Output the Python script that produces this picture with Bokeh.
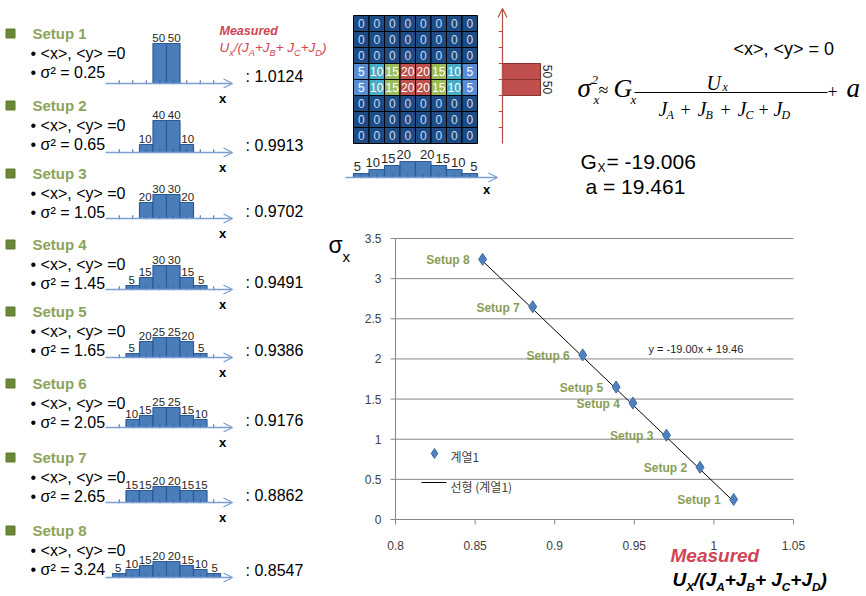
import numpy as np
from bokeh.plotting import figure
from bokeh.models import Range1d, ColumnDataSource, Arrow, OpenHead
from bokeh.core.properties import value
from bokeh.embed import file_html
from bokeh.resources import INLINE

W, H = 866, 596
SANS = "Liberation Sans"
SERIF = "Liberation Serif"
KR = "Noto Sans CJK KR"

# ---------------- data ----------------
setup_names = ["Setup 1", "Setup 2", "Setup 3", "Setup 4",
               "Setup 5", "Setup 6", "Setup 7", "Setup 8"]
sigma_sq = [0.25, 0.65, 1.05, 1.45, 1.65, 2.05, 2.65, 3.24]
measured_ratio = [1.0124, 0.9913, 0.9702, 0.9491, 0.9386, 0.9176, 0.8862, 0.8547]
bin_pos = [-3.5, -2.5, -1.5, -0.5, 0.5, 1.5, 2.5, 3.5]
hist_1 = [0, 0, 0, 50, 50, 0, 0, 0]
hist_2 = [0, 0, 10, 40, 40, 10, 0, 0]
hist_3 = [0, 0, 20, 30, 30, 20, 0, 0]
hist_4 = [0, 5, 15, 30, 30, 15, 5, 0]
hist_5 = [0, 5, 20, 25, 25, 20, 5, 0]
hist_6 = [0, 10, 15, 25, 25, 15, 10, 0]
hist_7 = [0, 15, 15, 20, 20, 15, 15, 0]
hist_8 = [5, 10, 15, 20, 20, 15, 10, 5]
setup_hists = [hist_1, hist_2, hist_3, hist_4, hist_5, hist_6, hist_7, hist_8]
zero_row = [0, 0, 0, 0, 0, 0, 0, 0]
beam_row = [5, 10, 15, 20, 20, 15, 10, 5]
grid_values = [zero_row, zero_row, zero_row, beam_row, beam_row, zero_row, zero_row, zero_row]
col_hist = [5, 10, 15, 20, 20, 15, 10, 5]
row_hist = [0, 0, 0, 50, 50, 0, 0, 0]
trend_slope = -19.00
trend_intercept = 19.46
fit_G = -19.006
fit_a = 19.461
x_ticks = [0.8, 0.85, 0.9, 0.95, 1.0, 1.05]
x_tick_labels = ["0.8", "0.85", "0.9", "0.95", "1", "1.05"]
y_ticks = [0, 0.5, 1, 1.5, 2, 2.5, 3, 3.5]
y_tick_labels = ["0", "0.5", "1", "1.5", "2", "2.5", "3", "3.5"]
legend_labels = ["계열1", "선형 (계열1)"]

# ---------------- layout helpers ----------------
def xmap(v0, px0, ppu):
    s = v0 - px0 / ppu
    return Range1d(s, s + W / ppu)

def ymap(v0, py0, ppu):
    s = v0 - (H - py0) / ppu
    return Range1d(s, s + H / ppu)

title_y = [33, 105, 173, 244, 311, 383, 457, 530]
axis_y = [83, 152, 218, 289, 357, 427, 502, 577]
HX_C, HX_PPU = 166, 13.5
S_X0, S_X1, S_Y0, S_Y1 = 395, 793, 519, 238

p = figure(width=W, height=H, x_range=Range1d(0, W), y_range=Range1d(H, 0),
           x_axis_type=None, y_axis_type=None, toolbar_location=None,
           output_backend="svg", min_border=0)
p.outline_line_color = None
p.background_fill_color = "white"
p.border_fill_color = "white"

p.extra_x_ranges = {
    "hx": xmap(0, HX_C, HX_PPU),
    "gx": xmap(0, 353, 15.5),
    "vx": xmap(0, 502, 0.76),
    "sx": xmap(x_ticks[0], S_X0, (S_X1 - S_X0) / (x_ticks[-1] - x_ticks[0])),
}
yr = {f"h{i}": ymap(0, axis_y[i], 0.8) for i in range(8)}
yr["gy"] = ymap(0, 143, 16)
yr["ghy"] = ymap(0, 177, 0.8)
yr["sy"] = ymap(y_ticks[0], S_Y0, (S_Y0 - S_Y1) / (y_ticks[-1] - y_ticks[0]))
p.extra_y_ranges = yr


def _l(v):
    return list(v) if isinstance(v, (list, tuple, np.ndarray)) else [v]


def txt(x, y, s, size, color="#000000", style="normal", align="left",
        baseline="middle", font=SANS, angle=0.0, xr="default", yr="default",
        xo=0, yo=0):
    xs, ys, ss = _l(x), _l(y), _l(s)
    n = max(len(xs), len(ys), len(ss))
    xs = xs * n if len(xs) == 1 else xs
    ys = ys * n if len(ys) == 1 else ys
    ss = ss * n if len(ss) == 1 else ss
    xos = _l(xo)
    xos = xos * n if len(xos) == 1 else xos
    src = ColumnDataSource(dict(x=xs, y=ys, t=ss, xo=xos))
    p.text(x="x", y="y", text="t", source=src, text_font=value(font),
           text_font_size=f"{size}px", text_color=color, text_font_style=style,
           text_align=align, text_baseline=baseline, angle=angle,
           x_range_name=xr, y_range_name=yr, x_offset="xo", y_offset=yo)


def tb(x, base, s, size, color="#000000", style="normal", font=SANS, align="left"):
    """text placed by its baseline (canvas px)"""
    txt(x, base - 0.35 * size, s, size, color, style, align=align, font=font)


ARIAL = {' ': 278, '(': 333, ')': 333, '+': 584, '/': 278, 'A': 667, 'B': 667,
         'C': 722, 'D': 722, 'J': 500, 'U': 722, 'X': 667, 'x': 500}
ARIAL_B = {' ': 278, '(': 333, ')': 333, '+': 584, '/': 278, 'A': 722, 'B': 722,
           'C': 722, 'D': 722, 'J': 556, 'U': 722, 'X': 667, 'x': 556}


def rich(x, y, parts, size, color, style, table, sub=0.62):
    for s, kind in parts:
        fs = size * sub if kind == "sub" else size
        yy = y + size * 0.25 if kind == "sub" else y
        tb(x, yy, s, round(fs, 1), color, style)
        x += sum(table.get(c, 556) for c in s) / 1000 * fs


def ratio_parts(xs):
    return [("U", "n"), (xs, "sub"), ("/(J", "n"), ("A", "sub"), ("+J", "n"),
            ("B", "sub"), ("+ J", "n"), ("C", "sub"), ("+J", "n"), ("D", "sub"),
            (")", "n")]


OLIVE = "#8CA35A"
RED = "#D04555"
BAR_F, BAR_L = "#4A7EBB", "#2E5A94"
ARROW_C = "#7C9ED3"

# ---------------- left column: 8 setups ----------------
for i in range(8):
    T, A = title_y[i], axis_y[i]
    yn = f"h{i}"
    p.rect(x=[10], y=[T], width=9, height=9, fill_color="#6A8A37",
           line_color="#5A7A2A")
    txt(32, T, setup_names[i], 15, OLIVE, "bold")
    txt(30, T + 20, "• <x>, <y> =0", 16)
    txt(30, T + 39, f"• σ² = {sigma_sq[i]:.2f}", 16)
    vals = setup_hists[i]
    bx = [b for b, v in zip(bin_pos, vals) if v > 0]
    bv = [v for v in vals if v > 0]
    p.vbar(x=bx, top=bv, bottom=0, width=1, x_range_name="hx", y_range_name=yn,
           fill_color=BAR_F, line_color=BAR_L, line_width=1.2)
    p.segment(x0=bin_pos, x1=bin_pos, y0=[-1] * 8, y1=[4] * 8,
              x_range_name="hx", y_range_name=yn, line_color="#3B5F9A", line_width=1)
    p.add_layout(Arrow(x_start=(105 - HX_C) / HX_PPU, y_start=0,
                       x_end=(232 - HX_C) / HX_PPU, y_end=0,
                       x_range_name="hx", y_range_name=yn,
                       line_color=ARROW_C, line_width=1.3,
                       end=OpenHead(size=9, line_color=ARROW_C, line_width=1.3)))
    txt(bx, [v + 2 for v in bv], [str(v) for v in bv], 11.5, "#262626",
        align="center", baseline="bottom", xr="hx", yr=yn,
        xo=[-1 if b < 0 else 1 for b in bx])
    if i < 7:
        txt(222, A + 15, "x", 13, "#000000", "bold", align="center")
    txt(245, A - 7, f": {measured_ratio[i]:.4f}", 16)

# red label at top of left column
tb(219, 35, "Measured", 12.5, RED, "bold italic")
rich(219, 52, ratio_parts("x"), 13.5, RED, "italic", ARIAL, sub=0.68)

# ---------------- top middle: detector grid ----------------
cell_col = {0: "#1F4B85", 5: "#558ED5", 10: "#4BACC6", 15: "#9BBB59", 20: "#C0504D"}
cx, cy, cv, cc, tc = [], [], [], [], []
for r, row in enumerate(grid_values):
    for c, v in enumerate(row):
        cx.append(c + 0.5)
        cy.append(7.5 - r)
        cv.append(str(v))
        cc.append(cell_col[v])
        tc.append("#C6D9F1" if v == 0 else "#FFFFFF")
p.rect(x=cx, y=cy, width=1, height=1, fill_color=cc, line_color="black",
       line_width=1, x_range_name="gx", y_range_name="gy")
src = ColumnDataSource(dict(x=cx, y=cy, t=cv, c=tc))
p.text(x="x", y="y", text="t", source=src, text_color="c", text_font=value(SANS),
       text_font_size="12px", text_align="center", text_baseline="middle",
       x_range_name="gx", y_range_name="gy")

# column histogram under grid
gcx = [c + 0.5 for c in range(8)]
p.vbar(x=gcx, top=col_hist, bottom=0, width=1, x_range_name="gx", y_range_name="ghy",
       fill_color=BAR_F, line_color=BAR_L, line_width=1.2)
p.segment(x0=gcx, x1=gcx, y0=[-1] * 8, y1=[4] * 8, x_range_name="gx",
          y_range_name="ghy", line_color="#3B5F9A")
p.add_layout(Arrow(x_start=(345 - 353) / 15.5, y_start=0, x_end=(497 - 353) / 15.5,
                   y_end=0, x_range_name="gx", y_range_name="ghy",
                   line_color=ARROW_C, line_width=1.3,
                   end=OpenHead(size=9, line_color=ARROW_C, line_width=1.3)))
txt(gcx, [v + 3 for v in col_hist], [str(v) for v in col_hist], 13, "#262626",
    align="center", baseline="bottom", xr="gx", yr="ghy",
    xo=[-4 if c < 4 else 4 for c in gcx])
txt(486, 189, "x", 13, "#000000", "bold", align="center")

# row histogram right of grid
rcy = [7.5 - r for r in range(8)]
ry = [y for y, v in zip(rcy, row_hist) if v > 0]
rv = [v for v in row_hist if v > 0]
p.hbar(y=ry, right=rv, left=0, height=1, x_range_name="vx", y_range_name="gy",
       fill_color="#C0504D", line_color="#8C3230", line_width=1.2)
VA = "#B0513F"
p.segment(x0=[-5] * 7, x1=[0] * 7, y0=list(range(1, 8)), y1=list(range(1, 8)),
          x_range_name="vx", y_range_name="gy", line_color=VA)
p.add_layout(Arrow(x_start=0, y_start=0, x_end=0, y_end=(143 - 8) / 16,
                   x_range_name="vx", y_range_name="gy", line_color=VA,
                   line_width=1.2, end=OpenHead(size=9, line_color=VA, line_width=1.2)))
txt([v + 3 for v in rv], ry, [str(v) for v in rv], 12, "#262626", align="center",
    baseline="bottom", angle=-np.pi / 2, xr="vx", yr="gy")

# ---------------- top right: formula ----------------
txt(733, 48, "<x>, <y> = 0", 18)
tb(577, 97, "σ", 27, style="italic", font=SERIF)
tb(591, 84, "2", 13, style="italic", font=SERIF)
tb(593, 104, "x", 13, style="italic", font=SERIF)
tb(598, 96, "≈", 18, font=SERIF)
tb(613, 97, "G", 26, style="italic", font=SERIF)
tb(630, 104, "x", 13, style="italic", font=SERIF)
p.segment(x0=[634], x1=[827], y0=[92], y1=[92], line_color="black", line_width=1)
tb(706, 89, "U", 20, style="italic", font=SERIF)
tb(722, 91, "x", 12, style="italic", font=SERIF)
for jx, sub_ in zip([658, 697, 737, 773], ["A", "B", "C", "D"]):
    tb(jx, 115, "J", 20, style="italic", font=SERIF)
    tb(jx + 8, 119, sub_, 12, style="italic", font=SERIF)
for px_ in [680, 720, 758]:
    tb(px_, 115, "+", 18, font=SERIF)
tb(827, 97, "+", 18, font=SERIF)
tb(846, 97, "a", 27, style="italic", font=SERIF)

tb(580, 168, "G", 21)
tb(597, 172, "X", 12)
tb(606, 168, f"= {fit_G:.3f}", 21)
tb(585, 193, f"a  = {fit_a:.3f}", 21)

# ---------------- bottom right: scatter ----------------
GRID_C = "#868686"
x_lo, x_hi = x_ticks[0], x_ticks[-1]
p.segment(x0=[x_lo] * len(y_ticks), x1=[x_hi] * len(y_ticks), y0=y_ticks, y1=y_ticks,
          x_range_name="sx", y_range_name="sy", line_color=GRID_C, line_width=1)
p.segment(x0=[x_lo], x1=[x_lo], y0=[y_ticks[0]], y1=[y_ticks[-1]],
          x_range_name="sx", y_range_name="sy", line_color=GRID_C, line_width=1)
p.segment(x0=x_ticks, x1=x_ticks, y0=[S_Y0] * 6, y1=[S_Y0 + 5] * 6,
          x_range_name="sx", line_color=GRID_C)
p.segment(x0=[S_X0 - 5] * 8, x1=[S_X0] * 8, y0=y_ticks, y1=y_ticks,
          y_range_name="sy", line_color=GRID_C)
txt(x_ticks, [545] * 6, x_tick_labels, 12, "#404040", align="center", xr="sx")
txt([381] * 8, y_ticks, y_tick_labels, 12, "#404040", align="right", yr="sy")

tx = [min(measured_ratio), max(measured_ratio)]
ty = [trend_slope * v + trend_intercept for v in tx]
p.line(tx, ty, x_range_name="sx", y_range_name="sy", line_color="black", line_width=1)
p.scatter(measured_ratio, sigma_sq, marker="diamond", size=12,
          fill_color="#4F81BD", line_color="#3C6BA5", x_range_name="sx",
          y_range_name="sy")
txt(measured_ratio, sigma_sq, setup_names, 12, "#8A9D58", "bold", align="right",
    xr="sx", yr="sy", xo=-13, yo=1)
txt(648, 348, f"y = {trend_slope:.2f}x  + {trend_intercept:.2f}", 11, "#262626")

# legend
p.scatter([434], [453], marker="diamond", size=10, fill_color="#4F81BD",
          line_color="#3C6BA5")
txt(450, 456, legend_labels[0], 12, "#404040", font=KR)
p.segment(x0=[421], x1=[446], y0=[482], y1=[482], line_color="black", line_width=1)
txt(450, 486, legend_labels[1], 12, "#404040", font=KR)

# axis titles
tb(328, 253, "σ", 23)
tb(342, 261, "x", 15)
tb(670, 562, "Measured", 19, RED, "bold italic")
rich(672, 586, ratio_parts("X"), 19, "#000000", "bold italic", ARIAL_B)

open("out.html", "w").write(file_html(p, INLINE))
